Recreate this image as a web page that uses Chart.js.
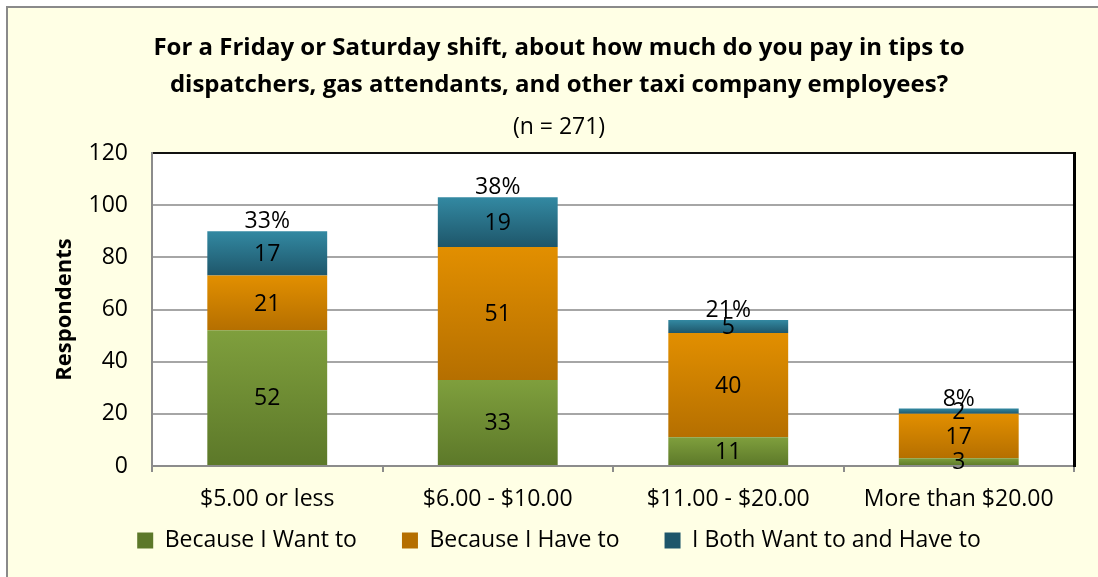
<!DOCTYPE html>
<html>
<head>
<meta charset="utf-8">
<script src="https://cdn.jsdelivr.net/npm/chart.js@4/dist/chart.umd.min.js"></script>
<style>
  body { margin: 0; background: #fff; }
  #frame {
    position: absolute; left: 6px; top: 6px; width: 1100px; height: 580px;
    border-left: 2px solid #8a8a8a; border-top: 2px solid #8a8a8a;
    background: #ffffe5;
  }
  #wrap { position: absolute; left: 0; top: 0; width: 1098px; height: 577px; }
</style>
</head>
<body>
<div id="frame"></div>
<div id="wrap"><canvas id="chart"></canvas></div>
<script>
var categories = ["$5.00 or less", "$6.00 - $10.00", "$11.00 - $20.00", "More than $20.00"];
var wantTo = [52, 33, 11, 3];
var haveTo = [21, 51, 40, 17];
var bothTo = [17, 19, 5, 2];
var shares = ["33%", "38%", "21%", "8%"];
var yTicks = [0, 20, 40, 60, 80, 100, 120];

var series = [wantTo, haveTo, bothTo];
var FONT = "'Open Sans', Lato, sans-serif";
var TXT = 23;

// vertical gradient per stacked segment, light at top, dark at bottom
function segFill(light, dark) {
    return function(ctx) {
        var chart = ctx.chart;
        var y = chart.scales.y;
        if (ctx.type !== "data" || !y) return dark;
        var i = ctx.dataIndex, d = ctx.datasetIndex;
        var base = 0;
        for (var k = 0; k < d; k++) base += series[k][i];
        var yb = y.getPixelForValue(base);
        var yt = y.getPixelForValue(base + series[d][i]);
        if (!isFinite(yb) || !isFinite(yt) || yb === yt) return dark;
        var g = chart.ctx.createLinearGradient(0, yt, 0, yb);
        g.addColorStop(0, light);
        g.addColorStop(1, dark);
        return g;
    };
}

// white plot area
var plotBg = {
    id: "plotBg",
    beforeDraw: function(chart) {
        var a = chart.chartArea;
        chart.ctx.save();
        chart.ctx.fillStyle = "#fff";
        chart.ctx.fillRect(a.left, a.top, a.right - a.left, a.bottom - a.top);
        chart.ctx.restore();
    }
};

// values in the middle of each segment, share above each stack
var labelPlugin = {
    id: "segLabels",
    afterDatasetsDraw: function(chart) {
        var c = chart.ctx;
        c.save();
        c.font = TXT + "px " + FONT;
        c.fillStyle = "#000";
        c.textAlign = "center";
        c.textBaseline = "middle";
        chart.data.datasets.forEach(function(ds, d) {
            var meta = chart.getDatasetMeta(d);
            meta.data.forEach(function(bar, i) {
                c.fillText(String(ds.data[i]), bar.x, (bar.y + bar.base) / 2 + 1);
            });
        });
        var last = chart.getDatasetMeta(chart.data.datasets.length - 1);
        c.textBaseline = "alphabetic";
        last.data.forEach(function(bar, i) {
            c.fillText(shares[i], bar.x, bar.y - 3);
        });
        c.restore();
    }
};

new Chart(document.getElementById("chart"), {
    type: "bar",
    data: {
        labels: categories,
        datasets: [
            { label: "Because I Want to", data: wantTo, backgroundColor: segFill("#7f9f3d", "#5c7829") },
            { label: "Because I Have to", data: haveTo, backgroundColor: segFill("#e28f00", "#b56f00") },
            { label: "I Both Want to and Have to", data: bothTo, backgroundColor: segFill("#3389a2", "#1e566a") }
        ]
    },
    options: {
        responsive: true,
        maintainAspectRatio: false,
        animation: false,
        devicePixelRatio: 1,
        layout: { padding: { left: 20, right: 0, top: 0, bottom: 15 } },
        datasets: { bar: { barPercentage: 0.52, categoryPercentage: 1 } },
        plugins: {
            title: {
                display: true,
                text: ["For a Friday or Saturday shift, about how much do you pay in tips to",
                       "dispatchers, gas attendants, and other taxi company employees?"],
                color: "#000",
                font: { family: FONT, size: 24, weight: "bold", lineHeight: 37 / 24 },
                padding: { top: 30, bottom: 11 }
            },
            subtitle: {
                display: true,
                text: "(n = 271)",
                color: "#000",
                font: { family: FONT, size: TXT, lineHeight: 24 / TXT },
                padding: { top: 0, bottom: 14 }
            },
            legend: {
                position: "bottom",
                labels: {
                    color: "#000",
                    font: { family: FONT, size: TXT },
                    boxWidth: 16,
                    boxHeight: 16,
                    padding: 45
                }
            },
            tooltip: { enabled: false }
        },
        scales: {
            x: {
                stacked: true,
                // labels are mirrored so they don't take layout space, pushed below the axis with negative padding
                afterFit: function(s) { s.height = 18; },
                grid: { drawOnChartArea: false, drawTicks: true, tickLength: 6, color: "#8c8c8c", lineWidth: 2 },
                border: { color: "#8c8c8c", width: 2 },
                ticks: { color: "#000", font: { family: FONT, size: TXT }, mirror: true, padding: -47, maxRotation: 0, autoSkip: false }
            },
            y: {
                stacked: true,
                min: 0,
                max: 120,
                afterFit: function(s) { s.width = 132; },
                afterBuildTicks: function(s) { s.ticks = yTicks.map(function(v) { return { value: v }; }); },
                grid: {
                    drawTicks: false,
                    lineWidth: 2,
                    color: function(ctx) { return ctx.tick && ctx.tick.value === 120 ? "#111" : "#a6a6a6"; }
                },
                border: { color: "#8c8c8c", width: 2 },
                ticks: { color: "#000", font: { family: FONT, size: TXT }, padding: 24 },
                title: {
                    display: true,
                    text: "Respondents",
                    color: "#000",
                    font: { family: FONT, size: 22, weight: "bold" },
                    padding: { top: 32, bottom: 0 }
                }
            },
            y2: {
                position: "right",
                afterFit: function(s) { s.width = 24; },
                grid: { display: false, drawTicks: false },
                ticks: { display: false },
                border: { color: "#000", width: 3 }
            }
        }
    },
    plugins: [plotBg, labelPlugin]
});
</script>
</body>
</html>
